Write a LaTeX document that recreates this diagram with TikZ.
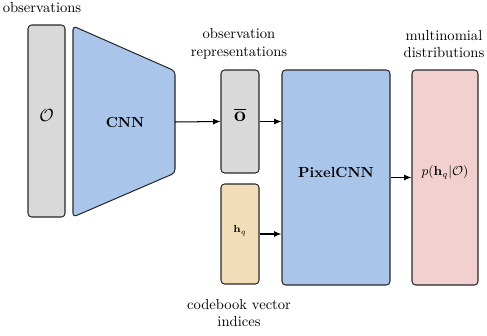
\documentclass[tikz,border=0pt]{standalone}
\usepackage{amsmath}
\usetikzlibrary{fit,arrows.meta}
\definecolor{obsgray}{RGB}{217,217,217}
\definecolor{netblue}{RGB}{169,197,233}
\definecolor{codetan}{RGB}{242,221,185}
\definecolor{distpink}{RGB}{242,208,208}
\definecolor{edge}{RGB}{40,40,40}
\begin{document}
\begin{tikzpicture}[x=0.685pt,y=-0.685pt,
  box/.style={draw=edge, line width=0.7pt, rounded corners=2.5pt, inner sep=0pt},
  arr/.style={-{Latex[length=5pt,width=4pt]}, line width=0.7pt},
  caption/.style={align=center, font=\normalsize}]
\useasboundingbox (0,0) rectangle (487,335);

% observations column
\node[box, fill=obsgray, fit={(28,25)(65,217)}, font=\large] (obs) {$\mathcal{O}$};
\node[caption] (obscap) at (42,8) {observations};

% CNN encoder (trapezoid)
\coordinate (cnntl) at (73,26);
\coordinate (cnnbl) at (73,217);
\coordinate (cnntr) at (175,71);
\coordinate (cnnbr) at (175,173);
\coordinate (cnnout) at (175,122);
\draw[fill=netblue, draw=edge, line width=0.7pt, rounded corners=2.5pt]
  (cnntl) -- (cnntr) -- (cnnbr) -- (cnnbl) -- cycle;
\node[font=\bfseries] (cnn) at (125,122) {CNN};

% observation representations
\node[box, fill=obsgray, fit={(221,70)(259,173)}, font=\Large] (obar) {$\overline{\mathbf{o}}$};
\node[caption] (obarcap) at (239,44) {observation\\representations};

% codebook vector indices
\node[box, fill=codetan, fit={(221,184)(259,284)}, font=\scriptsize] (hq) {$\mathbf{h}_q$};
\node[caption] (hqcap) at (239,313) {codebook vector\\indices};

% PixelCNN
\node[box, fill=netblue, fit={(282,70)(390,285)}, font=\bfseries] (pcnn) {PixelCNN};

% multinomial distributions
\node[box, fill=distpink, fit={(412,70)(478,285)}, font=\small] (dist) {$p(\mathbf{h}_q|\mathcal{O})$};
\node[caption] (distcap) at (444,44) {multinomial\\distributions};

% connectors
\draw[arr] (cnnout) -- (obar.west);
\draw[arr] (obar.east) -- (pcnn.west |- obar.east);
\draw[arr] (hq.east) -- (pcnn.west |- hq.east);
\draw[arr] (pcnn.east |- dist.west) -- (dist.west);
\end{tikzpicture}
\end{document}
